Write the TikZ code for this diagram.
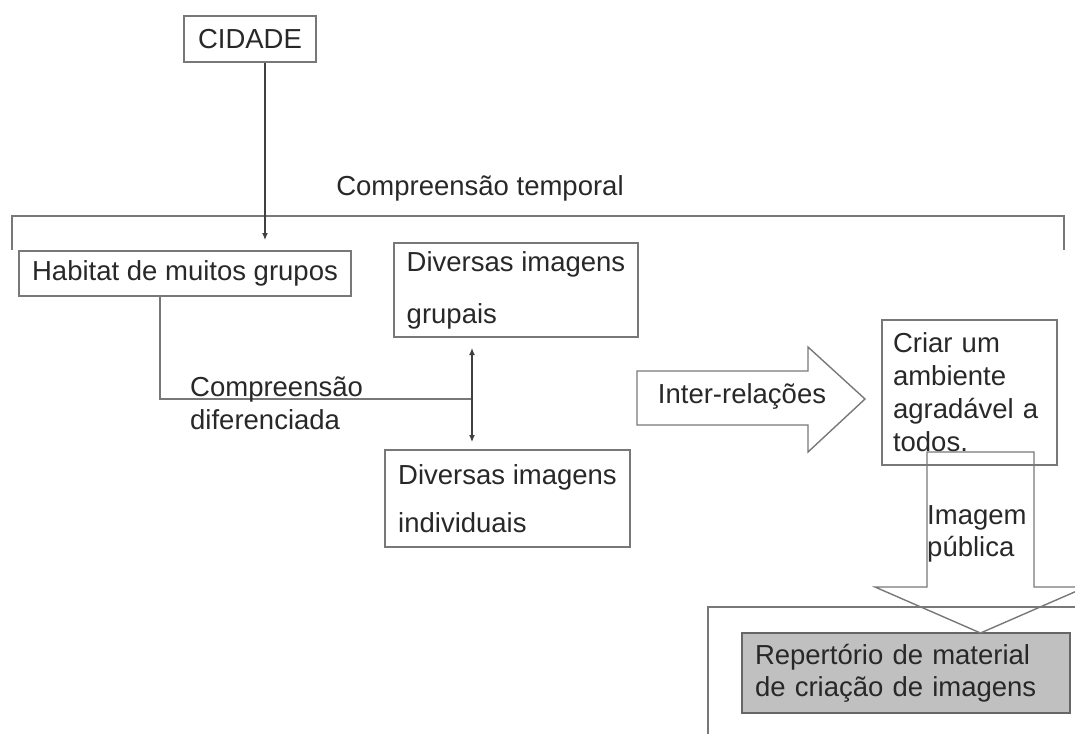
\documentclass[tikz,border=0pt]{standalone}
\usepackage{fontspec}
\setmainfont{Liberation Sans}
\usetikzlibrary{arrows.meta}
\definecolor{linegray}{RGB}{120,120,120}
\definecolor{txt}{RGB}{40,40,40}
\definecolor{fillgray}{RGB}{192,192,192}
\begin{document}
\begin{tikzpicture}[x=1pt,y=-1pt,
  every node/.style={text=txt,font=\fontsize{27.5}{33}\selectfont},
  boxnode/.style={draw=linegray,line width=1.3pt,rectangle,inner sep=0pt,align=center},
  textbox/.style={draw=linegray,line width=1.3pt,rectangle,inner ysep=0pt,inner xsep=12pt,align=left},
  plainline/.style={draw=linegray,line width=1.4pt},
  conn/.style={draw=black!75,line width=1.2pt},
  tip/.style={-{Latex[length=7pt,width=6pt]}}]
\useasboundingbox (0,0) rectangle (1075,733);
\begin{scope}
\clip (0,0) rectangle (1075,733);

% bracket "Compreensão temporal"
\draw[plainline] (12,250) -- (12,216) -- (1064,216) -- (1064,250);
\node (temporal) at (480,188) {Compreensão temporal};

% boxes
\node[boxnode,minimum width=132pt,minimum height=46pt] (cidade) at (250,39) {CIDADE};
\node[boxnode,minimum width=332pt,minimum height=45pt] (habitat) at (185,273.5) {Habitat de muitos grupos};
\node[boxnode,align=left,minimum width=244pt,minimum height=94pt,font=\fontsize{27.5}{52}\selectfont] (grupais) at (516,290) {Diversas imagens\\grupais};
\node[boxnode,align=left,minimum width=245pt,minimum height=97pt,font=\fontsize{27.5}{48}\selectfont] (indiv) at (507.5,498.5) {Diversas imagens\\individuais};
\node[textbox,inner xsep=11pt,text width=153pt,minimum height=145pt] (criar) at (969.5,392.5) {Criar um\\ambiente\\agradável a\\todos.};

% big bottom frame
\draw[plainline] (1080,607) -- (708,607) -- (708,740);
\node[textbox,fill=fillgray,draw=black!60,inner xsep=13pt,text width=302pt,minimum height=80pt,font=\fontsize{27.5}{32}\selectfont] (repert) at (906,673) {Repertório de material\\de criação de imagens};

% Inter-relações block arrow
\draw[plainline] (637,371) -- (808,371) -- (808,347) -- (865,399) -- (808,452) -- (808,425) -- (637,425) -- cycle;
\node (inter) at (742,396) {Inter-relações};

% Imagem pública block arrow (open, over the box)
\draw[plainline] (927,452) -- (927,587) -- (875,587) -- (980.5,633) -- (1086,587) -- (1034,587) -- (1034,452) -- cycle;
\node[anchor=west,align=left,inner sep=0pt,font=\fontsize{27.5}{32}\selectfont] (publica) at (927,534) {Imagem\\pública};

% connectors
\coordinate (c1) at (265,240);
\draw[conn,tip] (cidade.south -| c1) -- (c1);

\coordinate (h1) at (160,296);
\coordinate (h2) at (160,399);
\coordinate (j) at (472,399);
\coordinate (gtop) at (472,348);
\coordinate (gbot) at (472,442);
\draw[plainline] (h1) -- (h2) -- (j);
\draw[conn,{Latex[length=7pt,width=6pt]}-{Latex[length=7pt,width=6pt]}] (gtop) -- (gbot);
\node[anchor=west,align=left,inner sep=0pt] (difer) at (190,403) {Compreensão\\diferenciada};
\end{scope}
\end{tikzpicture}
\end{document}
